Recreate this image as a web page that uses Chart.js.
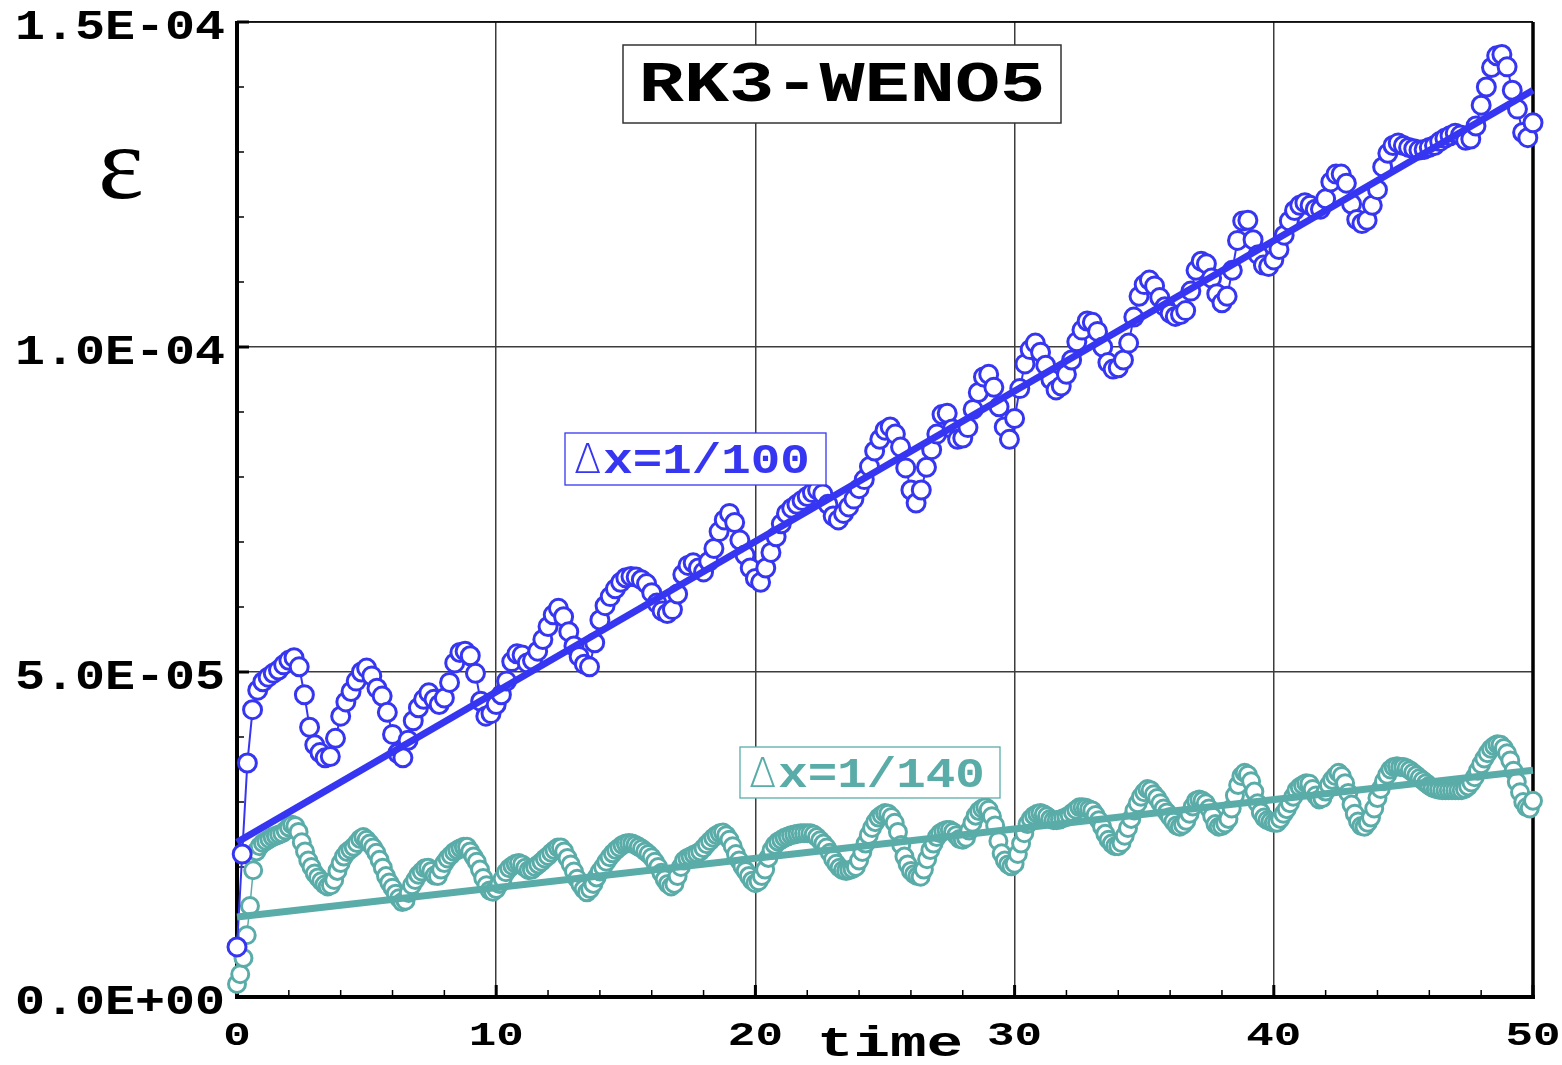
<!DOCTYPE html>
<html>
<head>
<meta charset="utf-8">
<title>RK3-WENO5 error growth</title>
<script src="https://cdn.jsdelivr.net/npm/chart.js@4.4.1/dist/chart.umd.min.js"></script>
<style>
  html, body { margin: 0; padding: 0; background: #fff; }
  #wrap { width: 1562px; height: 1065px; position: relative; }
</style>
</head>
<body>
<div id="wrap"><canvas id="errChart"></canvas></div>
<script>
// error eps(t), stored in units of 1e-6
const blueDt = 0.2;    // dx = 1/100 output interval
const tealDt = 0.125;  // dx = 1/140 output interval

const blueEps = [
  7.7, 22.0, 36.0, 44.2, 47.2,
  48.5, 49.2, 49.8, 50.3, 51.1,
  51.8, 52.2, 50.8, 46.5, 41.5,
  38.8, 37.6, 36.8, 37.0, 39.8,
  43.2, 45.4, 47.0, 48.6, 50.0,
  50.6, 49.4, 47.5, 46.3, 43.8,
  40.4, 37.5, 36.8, 39.5, 42.5,
  44.5, 45.8, 46.8, 45.8, 45.0,
  46.0, 48.4, 51.4, 53.0, 53.2,
  52.5, 49.8, 45.5, 43.2, 43.6,
  45.0, 46.5, 48.6, 51.6, 52.8,
  52.6, 51.4, 51.8, 53.2, 55.0,
  57.0, 58.8, 59.8, 58.5, 56.2,
  54.0, 52.4, 51.2, 50.8, 54.5,
  58.0, 60.2, 61.6, 62.8, 63.8,
  64.5, 64.7, 64.6, 64.2, 63.6,
  62.2, 60.6, 59.4, 59.0, 59.6,
  62.0, 65.0, 66.4, 66.8, 66.0,
  65.4, 67.0, 69.0, 71.6, 73.4,
  74.4, 73.0, 70.3, 68.0, 66.0,
  64.4, 63.8, 66.0, 68.4, 70.8,
  72.8, 74.4, 75.2, 75.8, 76.4,
  77.0, 77.6, 78.0, 77.4, 75.8,
  74.0, 73.4, 74.4, 75.4, 76.6,
  78.2, 79.6, 81.6, 84.0, 85.8,
  87.2, 87.7, 86.6, 84.6, 81.4,
  78.0, 76.0, 78.0, 81.5, 84.2,
  86.6, 89.6, 89.8, 87.4, 85.8,
  86.0, 87.6, 90.4, 93.0, 95.4,
  95.8, 93.8, 90.8, 87.7, 85.8,
  89.0, 93.6, 97.4, 99.6, 100.6,
  99.2, 97.2, 95.0, 93.4, 94.0,
  95.8, 98.0, 100.8, 102.6, 104.0,
  103.8, 102.4, 100.0, 97.6, 96.6,
  96.8, 98.0, 100.6, 104.6, 107.8,
  109.6, 110.3, 109.4, 107.6, 106.2,
  105.2, 104.7, 105.0, 105.6, 108.6,
  111.8, 113.2, 112.8, 110.6, 108.2,
  106.8, 107.8, 111.8, 116.4, 119.4,
  119.5, 116.5, 114.2, 112.6, 112.4,
  113.4, 115.0, 117.2, 119.4, 121.0,
  121.8, 122.2, 121.8, 121.2, 121.2,
  122.8, 125.4, 126.6, 126.6, 125.2,
  122.0, 119.6, 119.0, 119.5, 121.8,
  124.2, 127.7, 129.8, 131.0, 131.4,
  131.0, 130.7, 130.5, 130.3, 130.4,
  130.7, 131.0, 131.6, 132.1, 132.5,
  132.9, 132.6, 131.8, 132.0, 134.0,
  137.2, 140.0, 143.0, 144.8, 145.0,
  143.1, 139.5, 136.6, 133.0, 132.2,
  134.5
];

const tealEps = [
  2.0, 3.5, 6.0, 9.5, 14.0, 19.5, 22.4, 23.2,
  23.7, 24.0, 24.3, 24.6, 24.8, 25.0, 25.2, 25.6,
  26.1, 26.5, 26.3, 25.4, 23.8, 22.4, 21.0, 20.0,
  19.0, 18.4, 17.8, 17.3, 17.0, 17.2, 18.0, 19.4,
  20.6, 21.6, 22.3, 22.7, 23.1, 23.7, 24.3, 24.6,
  24.2, 23.6, 23.0, 22.2, 21.1, 19.9, 18.6, 17.6,
  16.8, 15.9, 15.2, 14.6, 14.8, 16.0, 17.2, 18.0,
  18.8, 19.3, 19.8, 19.9, 19.4, 18.7, 18.6, 19.6,
  20.6, 21.3, 21.8, 22.3, 22.6, 22.9, 23.1, 23.1,
  22.4, 21.6, 20.8, 19.6, 18.3, 17.2, 16.4, 16.2,
  16.6, 17.4, 18.2, 19.2, 19.8, 20.2, 20.5, 20.6,
  20.4, 19.9, 19.5, 19.6, 20.0, 20.4, 20.8, 21.3,
  21.7, 22.2, 22.6, 23.0, 23.0, 22.4, 21.4, 20.4,
  19.3, 18.2, 17.3, 16.6, 16.1, 16.6, 17.4, 18.4,
  19.3, 20.0, 20.8, 21.5, 22.1, 22.6, 23.0, 23.4,
  23.6, 23.7, 23.6, 23.4, 23.1, 22.8, 22.4, 22.0,
  21.5, 20.8, 20.0, 19.1, 18.1, 17.4, 17.0, 17.4,
  18.6, 20.0, 21.0, 21.4, 21.6, 21.9, 22.1, 22.4,
  22.9, 23.5, 24.0, 24.5, 24.9, 25.2, 25.3, 24.9,
  24.2, 23.2, 22.0, 21.0, 20.1, 19.4, 18.6, 17.9,
  17.5, 17.8, 18.6, 19.6, 21.4, 22.6, 23.4, 23.9,
  24.2, 24.5, 24.7, 24.9, 25.0, 25.1, 25.2, 25.2,
  25.2, 25.2, 25.0, 24.6, 24.1, 23.6, 23.0, 22.2,
  21.2, 20.5, 19.9, 19.5, 19.4, 19.5, 19.7, 20.0,
  21.0, 22.3, 23.6, 24.9, 26.0, 26.9, 27.6, 28.0,
  28.3, 28.2, 27.7, 26.8, 25.4, 23.4, 21.6, 20.4,
  19.4, 18.9, 18.6, 18.5, 19.6, 21.2, 22.6, 23.6,
  24.6, 25.2, 25.5, 25.7, 25.7, 25.4, 24.9, 24.3,
  24.2, 24.5, 25.6, 26.8, 27.9, 28.6, 29.0, 29.2,
  28.8, 27.8, 26.4, 24.0, 22.1, 21.0, 20.4, 20.1,
  20.5, 22.0, 23.6, 25.2, 26.6, 27.4, 27.9, 28.2,
  28.3, 28.1, 27.8, 27.4, 27.2, 27.2, 27.3, 27.5,
  27.7, 28.0, 28.4, 28.8, 29.2, 29.2, 29.1, 28.9,
  28.7, 28.0, 27.2, 26.2, 25.1, 24.2, 23.6, 23.2,
  23.2, 23.7, 24.8, 26.0, 27.4, 28.7, 29.8, 30.8,
  31.5, 32.0, 31.8, 31.2, 30.6, 29.8, 29.0, 28.4,
  27.7, 27.0, 26.4, 26.2, 26.5, 27.1, 28.2, 29.3,
  30.2, 30.4, 30.2, 29.8, 29.0, 27.8, 26.6, 26.2,
  26.3, 26.7, 27.4, 29.0, 31.0, 32.6, 34.0, 34.5,
  34.2, 33.2, 31.6, 29.8, 28.4, 27.6, 27.2, 27.0,
  26.8, 26.8, 27.4, 28.2, 28.9, 29.8, 30.8, 31.8,
  32.3, 32.6, 32.9, 32.8, 32.0, 31.0, 30.4, 30.6,
  31.6, 32.6, 33.4, 34.0, 34.5, 34.0, 32.9, 31.4,
  29.6, 28.2, 27.0, 26.3, 26.2, 26.8, 27.6, 29.0,
  30.6, 32.0, 33.2, 34.2, 35.0, 35.4, 35.5, 35.4,
  35.4, 35.2, 34.9, 34.5, 34.1, 33.7, 33.3, 32.9,
  32.5, 32.2, 32.0, 31.9, 31.8, 31.8, 31.8, 31.8,
  31.8, 31.8, 31.8, 32.0, 32.4, 33.0, 33.8, 34.8,
  35.8, 36.7, 37.5, 38.2, 38.6, 38.9, 38.8, 38.3,
  37.5, 36.4, 34.8, 33.1, 31.5, 30.0, 29.2, 29.0,
  30.2
];

// linear fits, end points at t = 0 and t = 50
const fitTime = [0, 50];
const blueFit = [23.8, 139.5];
const tealFit = [12.3, 34.9];

const xTicks = [0, 10, 20, 30, 40, 50];
const xTickLabels = ["0", "10", "20", "30", "40", "50"];
const yTicks = [0, 50, 100, 150];
const yTickLabels = ["0.0E+00", "5.0E-05", "1.0E-04", "1.5E-04"];

const plotTitle = "RK3-WENO5";
const xTitle = "time";
const yTitle = "\u03B5";
const blueLabel = ["\u0394", "x=1/100"];
const tealLabel = ["\u0394", "x=1/140"];

const BLUE = "#3636f2";
const TEAL = "#5aaca8";
const MONO = "'Liberation Mono', 'DejaVu Sans Mono', monospace";

const toPoints = (vals, dt) => vals.map((v, i) => ({ x: i * dt, y: v }));
const fitPoints = (vals) => vals.map((v, i) => ({ x: fitTime[i], y: v }));

// wide courier-ish text: pick size for height, stretch for width
function wideText(ctx, text, x, y, font, sx, align, color) {
  ctx.save();
  ctx.font = font;
  ctx.fillStyle = color;
  ctx.textBaseline = "alphabetic";
  ctx.textAlign = "left";
  const w = ctx.measureText(text).width * sx;
  let left = x;
  if (align === "center") left = x - w / 2;
  else if (align === "right") left = x - w;
  ctx.translate(left, y);
  ctx.scale(sx, 1);
  ctx.fillText(text, 0, 0);
  ctx.restore();
  return left + w;
}

function labelBox(ctx, box, parts, color, lineWidth) {
  ctx.save();
  ctx.fillStyle = "#fff";
  ctx.fillRect(box.x, box.y, box.w, box.h);
  ctx.strokeStyle = color;
  ctx.lineWidth = lineWidth;
  ctx.strokeRect(box.x, box.y, box.w, box.h);
  ctx.restore();
  const end = wideText(ctx, parts[0], box.x + 9, box.base, "300 40px 'DejaVu Sans', sans-serif", 1.0, "left", color);
  wideText(ctx, parts[1], end + 2, box.base, "bold 42px " + MONO, 1.17, "left", color);
}

const framePlugin = {
  id: "frame",
  beforeDatasetsDraw(chart) {
    const { ctx, chartArea: a, scales: { x, y } } = chart;
    const seg = (x1, y1, x2, y2) => { ctx.beginPath(); ctx.moveTo(x1, y1); ctx.lineTo(x2, y2); ctx.stroke(); };
    ctx.save();
    ctx.strokeStyle = "#000";
    // minor ticks, inward
    ctx.lineWidth = 1.5;
    for (let t = 2; t < 50; t += 2) {
      if (t % 10 === 0) continue;
      const px = x.getPixelForValue(t);
      seg(px, a.bottom, px, a.bottom - 7);
    }
    for (let v = 10; v < 150; v += 10) {
      if (v % 50 === 0) continue;
      const py = y.getPixelForValue(v);
      seg(a.left, py, a.left + 7, py);
    }
    // major ticks
    ctx.lineWidth = 3;
    xTicks.forEach((t) => { const px = x.getPixelForValue(t); seg(px, a.bottom, px, a.bottom - 12); });
    yTicks.forEach((v) => { const py = y.getPixelForValue(v); seg(a.left, py, a.left + 12, py); });
    // frame
    ctx.lineWidth = 1.5;
    seg(a.left, a.top, a.right, a.top);
    ctx.lineWidth = 3.5;
    seg(a.right, a.top, a.right, a.bottom);
    ctx.lineWidth = 4;
    seg(a.left, a.top - 1, a.left, a.bottom + 2);
    seg(a.left - 2, a.bottom, a.right + 2, a.bottom);
    ctx.restore();
  },
  afterDatasetsDraw(chart) {
    const { ctx, scales: { x, y } } = chart;

    // title box
    ctx.save();
    ctx.fillStyle = "#fff";
    ctx.fillRect(623, 45, 438, 78);
    ctx.strokeStyle = "#333";
    ctx.lineWidth = 1.5;
    ctx.strokeRect(623, 45, 438, 78);
    ctx.restore();
    wideText(ctx, plotTitle, 842, 101, "bold 57px " + MONO, 1.32, "center", "#000");

    labelBox(ctx, { x: 565, y: 433, w: 261, h: 52, base: 473 }, blueLabel, BLUE, 1.3);
    labelBox(ctx, { x: 740, y: 747, w: 260, h: 51, base: 787 }, tealLabel, TEAL, 1.3);

    // tick labels
    yTicks.forEach((v, i) => {
      wideText(ctx, yTickLabels[i], 225, y.getPixelForValue(v) + 17, "bold 42px " + MONO, 1.19, "right", "#000");
    });
    xTicks.forEach((t, i) => {
      wideText(ctx, xTickLabels[i], x.getPixelForValue(t), 1045, "bold 34px " + MONO, 1.35, "center", "#000");
    });

    // axis titles
    wideText(ctx, xTitle, 890, 1056, "bold 42px " + MONO, 1.45, "center", "#000");
    wideText(ctx, yTitle, 121, 198, "104px 'Liberation Serif', serif", 1.05, "center", "#000");
  }
};

const ctx = document.getElementById("errChart").getContext("2d");
new Chart(ctx, {
  type: "scatter",
  data: {
    datasets: [
      {
        label: "fit dx=1/100",
        data: fitPoints(blueFit),
        showLine: true,
        borderColor: BLUE,
        borderWidth: 7,
        pointRadius: 0,
        clip: false,
      },
      {
        label: "fit dx=1/140",
        data: fitPoints(tealFit),
        showLine: true,
        borderColor: TEAL,
        borderWidth: 7,
        pointRadius: 0,
        clip: false,
      },
      {
        label: "dx=1/100",
        data: toPoints(blueEps, blueDt),
        showLine: true,
        borderColor: BLUE,
        borderWidth: 2,
        pointRadius: 9,
        pointBorderWidth: 3,
        pointBorderColor: BLUE,
        pointBackgroundColor: "#fff",
        clip: false,
      },
      {
        label: "dx=1/140",
        data: toPoints(tealEps, tealDt),
        showLine: true,
        borderColor: TEAL,
        borderWidth: 1.5,
        pointRadius: 8.5,
        pointBorderWidth: 3,
        pointBorderColor: TEAL,
        pointBackgroundColor: "#fff",
        clip: false,
      },
    ],
  },
  options: {
    responsive: true,
    maintainAspectRatio: false,
    devicePixelRatio: 1,
    animation: false,
    events: [],
    layout: { padding: { top: 22, right: 29, left: 0, bottom: 0 } },
    plugins: {
      legend: { display: false },
      tooltip: { enabled: false },
    },
    scales: {
      x: {
        type: "linear",
        min: 0,
        max: 50,
        ticks: { display: false, stepSize: 10 },
        grid: { color: "#3c3c3c", lineWidth: 1.5, drawTicks: false },
        border: { display: false },
        afterFit: (scale) => { scale.height = 68; },
      },
      y: {
        type: "linear",
        min: 0,
        max: 150,
        ticks: { display: false, stepSize: 50 },
        grid: { color: "#3c3c3c", lineWidth: 1.5, drawTicks: false },
        border: { display: false },
        afterFit: (scale) => { scale.width = 237; },
      },
    },
  },
  plugins: [framePlugin],
});
</script>
</body>
</html>
